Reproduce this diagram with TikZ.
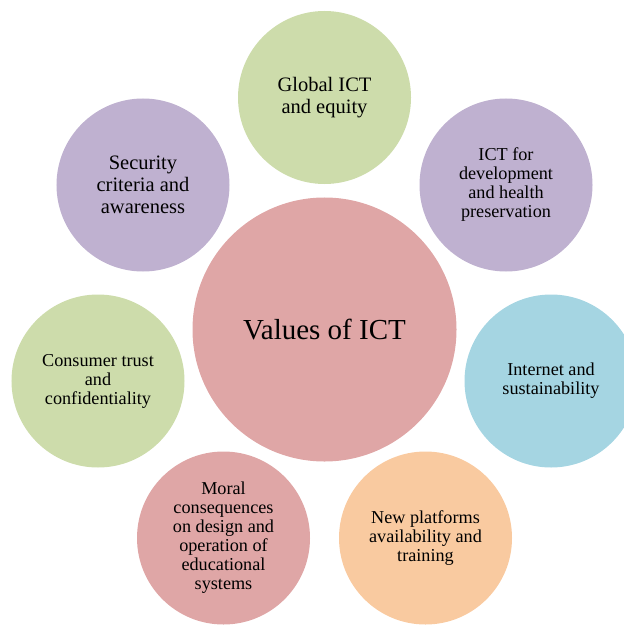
\documentclass[tikz,border=0pt]{standalone}
\usepackage{fontspec}
\setmainfont{Liberation Serif}
\definecolor{cgreen}{HTML}{CDDCAB}
\definecolor{cpurple}{HTML}{BFB1D0}
\definecolor{cpink}{HTML}{DFA6A6}
\definecolor{cblue}{HTML}{A5D5E2}
\definecolor{corange}{HTML}{F9CAA0}
\begin{document}
\begin{tikzpicture}[x=1bp,y=-1bp,
  bubble/.style={circle,minimum size=173bp,inner sep=0pt,align=center,text=black,
    font=\fontsize{18.2bp}{19bp}\selectfont},
  bigbubble/.style={bubble,minimum size=264bp,font=\fontsize{29bp}{32bp}\selectfont},
  largetext/.style={font=\fontsize{20.5bp}{22bp}\selectfont}]
\useasboundingbox (0,0) rectangle (624,626);
\node[bigbubble,fill=cpink] (center) at (324.5,329.5) {Values of ICT};
\node[bubble,largetext,fill=cgreen] (global) at (324.5,97.5) {Global ICT\\and equity};
\node[bubble,fill=cpurple] (dev) at (506,185) {ICT for\\development\\and health\\preservation};
\node[bubble,fill=cblue] (internet) at (551,381) {Internet and\\sustainability};
\node[bubble,fill=corange] (platforms) at (425.5,538) {New platforms\\availability and\\training};
\node[bubble,fill=cpink] (moral) at (223.5,538) {Moral\\consequences\\on design and\\operation of\\educational\\systems};
\node[bubble,fill=cgreen] (consumer) at (98,381) {Consumer trust\\and\\confidentiality};
\node[bubble,largetext,fill=cpurple] (security) at (143,185) {Security\\criteria and\\awareness};
\end{tikzpicture}
\end{document}
